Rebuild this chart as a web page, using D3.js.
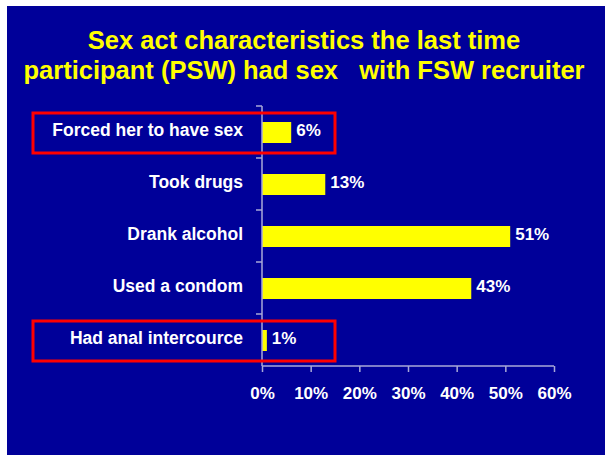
<!DOCTYPE html>
<html>
<head>
<meta charset="utf-8">
<script src="https://cdn.jsdelivr.net/npm/d3@7"></script>
<style>
  body { margin: 0; background: #fff; }
  svg { display: block; }
</style>
</head>
<body>
<script>
// chart data, top to bottom
const categories = ["Forced her to have sex", "Took drugs", "Drank alcohol", "Used a condom", "Had anal intercource"];
const values = [6, 13, 51, 43, 1];
const highlighted = ["Forced her to have sex", "Had anal intercource"];
const xTicks = [0, 10, 20, 30, 40, 50, 60];
const titleLines = ["Sex act characteristics the last time", "participant (PSW) had sex   with FSW recruiter"];

const W = 605, H = 455;
const font = "'Liberation Sans', Arial, sans-serif";

const svg = d3.select("body").append("svg")
  .attr("width", W)
  .attr("height", H);

// slide background
svg.append("rect")
  .attr("x", 7).attr("y", 6)
  .attr("width", W - 7).attr("height", H - 6)
  .attr("fill", "#000099");

// title
svg.append("g").selectAll("text")
  .data(titleLines)
  .enter()
  .append("text")
  .attr("x", 304)
  .attr("y", (d, i) => 49 + i * 30)
  .attr("text-anchor", "middle")
  .attr("fill", "#ffff00")
  .attr("font-family", font)
  .attr("font-weight", "bold")
  .attr("font-size", 25.5)
  .style("white-space", "pre")
  .text(d => d);

let x = d3.scaleLinear().domain([0, 60]).range([262, 554]);
let yb = d3.scaleBand().domain(categories).range([106, 366]);

const axisColor = "#a8a8d8";

// bars
svg.append("g").selectAll("rect")
  .data(categories)
  .enter()
  .append("rect")
  .attr("x", x(0))
  .attr("y", d => yb(d) + yb.bandwidth() / 2 - 10)
  .attr("width", (d, i) => x(values[i]) - x(0))
  .attr("height", 21)
  .attr("fill", "#ffff00");

// value labels
svg.append("g").selectAll("text")
  .data(categories)
  .enter()
  .append("text")
  .attr("x", (d, i) => x(values[i]) + 5)
  .attr("y", d => yb(d) + yb.bandwidth() / 2 + 4)
  .attr("fill", "#ffffff")
  .attr("font-family", font)
  .attr("font-weight", "bold")
  .attr("font-size", 17)
  .text((d, i) => values[i] + "%");

// category labels
svg.append("g").selectAll("text")
  .data(categories)
  .enter()
  .append("text")
  .attr("x", 243)
  .attr("y", d => yb(d) + yb.bandwidth() / 2 + 4)
  .attr("text-anchor", "end")
  .attr("fill", "#ffffff")
  .attr("font-family", font)
  .attr("font-weight", "bold")
  .attr("font-size", 17.5)
  .text(d => d);

// y axis: line with ticks at band edges
let yAxis = svg.append("g").attr("stroke", axisColor).attr("stroke-width", 1.5);
yAxis.append("line")
  .attr("x1", x(0)).attr("x2", x(0))
  .attr("y1", 106).attr("y2", 366);
yAxis.selectAll(".tk")
  .data(categories.map(d => yb(d)))
  .enter()
  .append("line")
  .attr("x1", x(0) - 6).attr("x2", x(0))
  .attr("y1", d => d).attr("y2", d => d);

// x axis
let xAxis = svg.append("g")
  .attr("transform", "translate(0,366)")
  .call(d3.axisBottom(x).tickValues(xTicks).tickSize(6).tickPadding(0).tickFormat(d => d + "%"));
xAxis.selectAll("line, path").attr("stroke", axisColor).attr("stroke-width", 1.5);
xAxis.select(".domain").attr("d", `M${x(0)},0H${x(60)}`);
xAxis.selectAll("text")
  .attr("y", 33)
  .attr("dy", null)
  .attr("fill", "#ffffff")
  .attr("font-family", font)
  .attr("font-weight", "bold")
  .attr("font-size", 17);

// red highlight boxes
svg.append("g").selectAll("rect")
  .data(highlighted)
  .enter()
  .append("rect")
  .attr("x", 33)
  .attr("y", d => yb(d) + 7)
  .attr("width", 302)
  .attr("height", 40)
  .attr("fill", "none")
  .attr("stroke", "#ff0000")
  .attr("stroke-width", 3);
</script>
</body>
</html>
